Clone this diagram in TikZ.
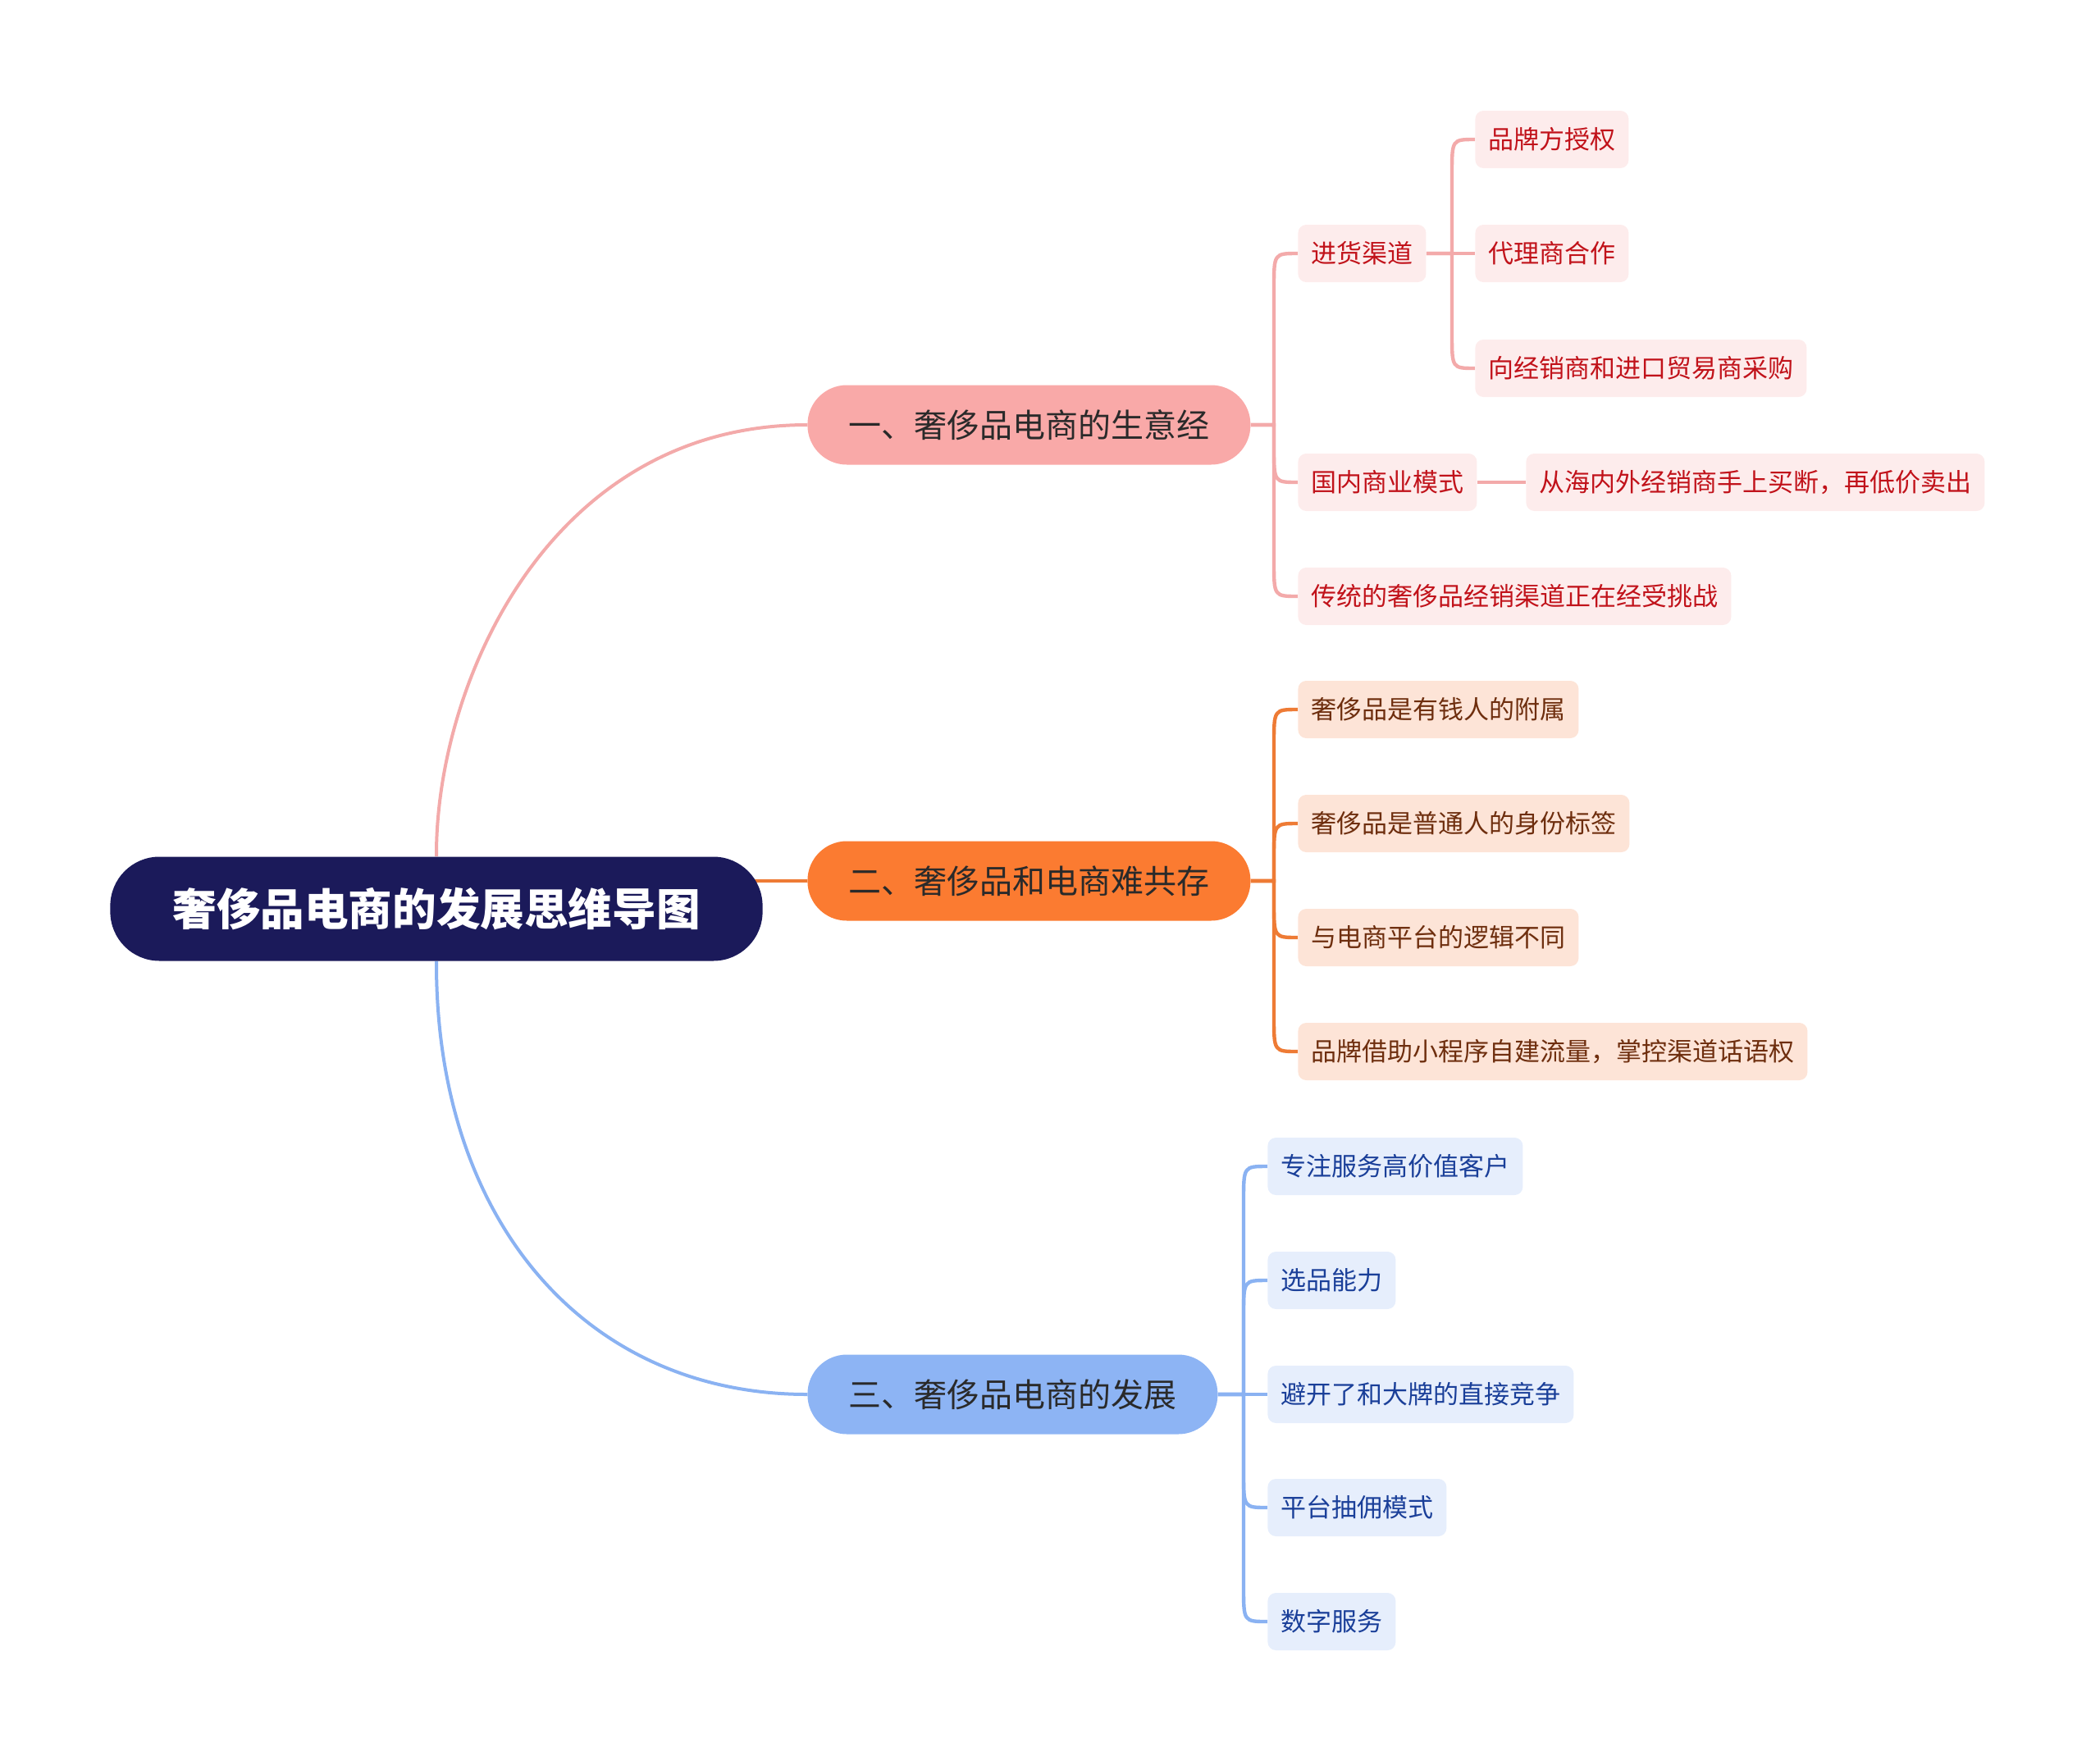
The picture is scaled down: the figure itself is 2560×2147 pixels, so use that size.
\documentclass[tikz,border=0pt]{standalone}
\usepackage{fontspec}
\setmainfont{Noto Sans CJK SC}
\usetikzlibrary{calc}
\pgfdeclarelayer{bg}
\pgfsetlayers{bg,main}
\definecolor{rootc}{HTML}{1B1A5A}
\definecolor{fillA}{HTML}{F9A9A8}
\definecolor{fillB}{HTML}{FB7B31}
\definecolor{fillC}{HTML}{8DB4F4}
\definecolor{lineA}{HTML}{F3AAAA}
\definecolor{lineB}{HTML}{EE7B35}
\definecolor{lineC}{HTML}{8AB2F2}
\definecolor{leafA}{HTML}{FDECEC}
\definecolor{leafB}{HTML}{FDE4D7}
\definecolor{leafC}{HTML}{E6EEFC}
\definecolor{txtA}{HTML}{C1121A}
\definecolor{txtB}{HTML}{6E2E0E}
\definecolor{txtC}{HTML}{1A3F99}
\definecolor{txtL}{HTML}{2A2A2A}
\newcommand\kid[5]{\draw[#4] (#1.east) -- (#2) -- ($(#2 |- #3.west)+(0,#5)$) .. controls (#2 |- #3.west) .. (#3.west);}
\begin{document}
\begin{tikzpicture}[x=0.5pt,y=-0.5pt,
  rootbox/.style={fill=rootc, text=white, rounded corners=30pt, minimum height=63.5pt, inner xsep=38pt, inner ysep=0pt, anchor=west, font=\fontsize{26.8pt}{30pt}\selectfont\bfseries},
  lonebox/.style={rounded corners=24pt, minimum height=48.5pt, inner xsep=25pt, inner ysep=0pt, anchor=west, text=txtL, font=\fontsize{20pt}{24pt}\selectfont},
  leaf/.style={rounded corners=5pt, minimum height=35pt, inner xsep=8pt, inner ysep=0pt, anchor=west, font=\fontsize{15.5pt}{18pt}\selectfont},
  leafa/.style={leaf, fill=leafA, text=txtA},
  leafb/.style={leaf, fill=leafB, text=txtB},
  leafc/.style={leaf, fill=leafC, text=txtC},
  lna/.style={draw=lineA, line width=2.2pt},
  lnb/.style={draw=lineB, line width=2.2pt},
  lnc/.style={draw=lineC, line width=2.2pt}]
\useasboundingbox (0,0) rectangle (2560,2147);

\node[rootbox] (root) at (134,1108) {奢侈品电商的发展思维导图};

\node[lonebox, fill=fillA] (b1) at (984,518) {一、奢侈品电商的生意经};
\node[lonebox, fill=fillB] (b2) at (984,1074) {二、奢侈品和电商难共存};
\node[lonebox, fill=fillC] (b3) at (984,1700) {三、奢侈品电商的发展};

\node[leafa] (a1) at (1582,309) {进货渠道};
\node[leafa] (a2) at (1582,588) {国内商业模式};
\node[leafa] (a3) at (1582,727) {传统的奢侈品经销渠道正在经受挑战};
\node[leafa] (a11) at (1798,170) {品牌方授权};
\node[leafa] (a12) at (1798,309) {代理商合作};
\node[leafa] (a13) at (1798,449) {向经销商和进口贸易商采购};
\node[leafa] (a21) at (1860,588) {从海内外经销商手上买断，再低价卖出};

\node[leafb] (n1) at (1582,865) {奢侈品是有钱人的附属};
\node[leafb] (n2) at (1582,1004) {奢侈品是普通人的身份标签};
\node[leafb] (n3) at (1582,1143) {与电商平台的逻辑不同};
\node[leafb] (n4) at (1582,1282) {品牌借助小程序自建流量，掌控渠道话语权};

\node[leafc] (c1) at (1545,1422) {专注服务高价值客户};
\node[leafc] (c2) at (1545,1561) {选品能力};
\node[leafc] (c3) at (1545,1700) {避开了和大牌的直接竞争};
\node[leafc] (c4) at (1545,1838) {平台抽佣模式};
\node[leafc] (c5) at (1545,1977) {数字服务};

\coordinate (ta) at (1553,518);
\coordinate (tb) at (1553,1074);
\coordinate (tc) at (1516,1700);
\coordinate (ta1) at (1770,309);

\begin{pgfonlayer}{bg}
\draw[lna, line width=2pt] (root.north) .. controls (531,834) and (669,518) .. (b1.west);
\draw[lnc, line width=2pt] (root.south) .. controls (531,1489) and (714,1700) .. (b3.west);
\draw[lnb, line width=2pt] (root.center |- b2.west) -- (b2.west);

\kid{b1}{ta}{a1}{lna}{-21pt}
\kid{b1}{ta}{a2}{lna}{21pt}
\kid{b1}{ta}{a3}{lna}{21pt}
\kid{a1}{ta1}{a11}{lna}{-21pt}
\draw[lna] (a1.east) -- (a12.west);
\kid{a1}{ta1}{a13}{lna}{21pt}
\draw[lna] (a2.east) -- (a21.west);

\kid{b2}{tb}{n1}{lnb}{-21pt}
\kid{b2}{tb}{n2}{lnb}{-21pt}
\kid{b2}{tb}{n3}{lnb}{21pt}
\kid{b2}{tb}{n4}{lnb}{21pt}

\kid{b3}{tc}{c1}{lnc}{-21pt}
\kid{b3}{tc}{c2}{lnc}{-21pt}
\draw[lnc] (b3.east) -- (c3.west);
\kid{b3}{tc}{c4}{lnc}{21pt}
\kid{b3}{tc}{c5}{lnc}{21pt}
\end{pgfonlayer}
\end{tikzpicture}
\end{document}
